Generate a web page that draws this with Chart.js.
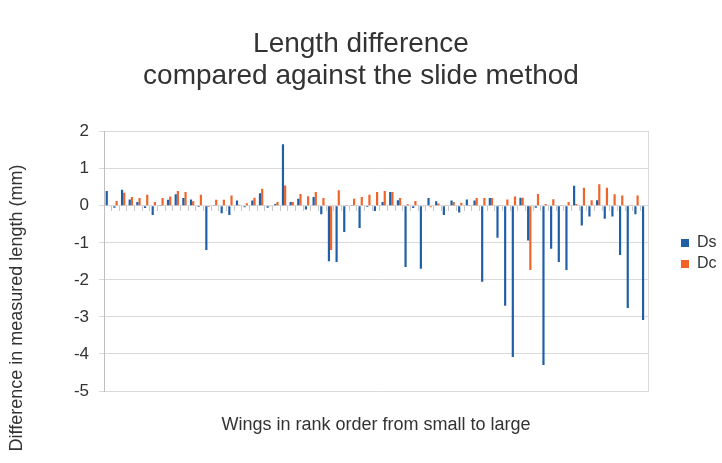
<!DOCTYPE html>
<html>
<head>
<meta charset="utf-8">
<script src="https://cdn.jsdelivr.net/npm/chart.js@4.4.1/dist/chart.umd.min.js"></script>
<style>
html,body{margin:0;padding:0;background:#ffffff;}
#wrap{width:722px;height:463px;}
</style>
</head>
<body>
<div id="wrap"><canvas id="c" width="722" height="463"></canvas></div>
<script>
// ---- data ----
const titleLines = ['Length difference', 'compared against the slide method'];
const xTitle = 'Wings in rank order from small to large';
const yTitle = 'Difference in measured length (mm)';
const seriesNames = ['Ds', 'Dc'];
const categories = ['1','2','3','4','5','6','7','8','9','10','11','12','13','14','15','16','17','18','19','20',
  '21','22','23','24','25','26','27','28','29','30','31','32','33','34','35','36','37','38','39','40',
  '41','42','43','44','45','46','47','48','49','50','51','52','53','54','55','56','57','58','59','60',
  '61','62','63','64','65','66','67','68','69','70','71'];
const dsValues = [0.40,-0.05,0.43,0.17,0.10,-0.06,-0.25,0.02,0.16,0.31,
  0.21,0.17,-0.03,-1.19,0.02,-0.20,-0.25,0.14,-0.04,0.14,
  0.34,-0.05,0.05,1.66,0.10,0.19,-0.10,0.24,-0.23,-1.50,
  -1.52,-0.71,0.02,-0.60,-0.03,-0.14,0.10,0.37,0.15,-1.65,
  -0.06,-1.70,0.21,0.12,-0.25,0.14,-0.18,0.17,0.14,-2.05,
  0.21,-0.86,-2.70,-4.08,0.22,-0.94,-0.05,-4.30,-1.16,-1.52,
  -1.73,0.54,-0.53,-0.29,0.15,-0.35,-0.29,-1.33,-2.76,-0.23,
  -3.08];
const dcValues = [0.00,0.13,0.35,0.24,0.21,0.30,0.10,0.21,0.25,0.40,
  0.37,0.12,0.30,-0.03,0.16,0.16,0.28,0.03,0.07,0.22,
  0.46,-0.02,0.10,0.55,0.10,0.32,0.26,0.37,0.21,-1.19,
  0.42,0.02,0.19,0.24,0.30,0.37,0.40,0.37,0.21,0.04,
  0.13,-0.02,-0.04,0.06,0.02,0.10,0.08,0.02,0.21,0.21,
  0.21,0.01,0.17,0.25,0.22,-1.73,0.32,0.05,0.18,0.02,
  0.10,0.05,0.49,0.15,0.58,0.49,0.31,0.28,0.02,0.28,
  0.00];
const yMin = -5, yMax = 2, yStep = 1;

// ---- styles ----
const FONT = "'Liberation Sans', Arial, Helvetica, sans-serif";
const TEXT = '#333333';
const GRID = '#d9d9d9';
const BLUE = '#1f5fa6';
const ORANGE = '#f0642a';

const yTitlePlugin = {
  id: 'yTitlePlugin',
  afterDraw(chart) {
    const ctx = chart.ctx;
    ctx.save();
    ctx.translate(17, 308);
    ctx.rotate(-Math.PI / 2);
    ctx.textAlign = 'center';
    ctx.textBaseline = 'middle';
    ctx.font = '18px ' + FONT;
    ctx.fillStyle = TEXT;
    ctx.fillText(yTitle, 0, 0);
    ctx.restore();
  }
};

new Chart(document.getElementById('c'), {
  type: 'bar',
  data: {
    labels: categories,
    datasets: [
      { label: seriesNames[0], data: dsValues, backgroundColor: BLUE, borderWidth: 0, xAxisID: 'x', yAxisID: 'y',
        categoryPercentage: 2/3.5, barPercentage: 1.0 },
      { label: seriesNames[1], data: dcValues, backgroundColor: ORANGE, borderWidth: 0, xAxisID: 'x', yAxisID: 'y',
        categoryPercentage: 2/3.5, barPercentage: 1.0 }
    ]
  },
  options: {
    responsive: false,
    animation: false,
    devicePixelRatio: 1,
    layout: { padding: 0 },
    plugins: {
      tooltip: { enabled: false },
      title: {
        display: true,
        text: titleLines,
        color: TEXT,
        font: { family: FONT, size: 28, weight: 'normal', lineHeight: 1.12 },
        padding: { top: 29, bottom: 40 }
      },
      legend: {
        position: 'right',
        align: 'start',
        maxWidth: 46,
        title: { display: true, text: '', font: { size: 10, lineHeight: 1 }, padding: { top: 220, bottom: 0 } },
        labels: {
          boxWidth: 8, boxHeight: 8, padding: 5,
          color: TEXT,
          font: { family: FONT, size: 16 }
        }
      }
    },
    scales: {
      x: {
        type: 'category',
        offset: true,
        grid: { display: false },
        border: { display: true, color: GRID },
        ticks: { display: false },
        title: { display: true, text: xTitle, color: TEXT, font: { family: FONT, size: 18 }, padding: { top: 0, bottom: 27 } },
        afterFit(scale) { scale.height = 72; }
      },
      x2: {
        type: 'category',
        axis: 'x',
        position: { y: 0 },
        offset: true,
        grid: { display: true, offset: true, drawOnChartArea: false, drawTicks: true, tickLength: 5, color: '#c8c8c8' },
        border: { display: false },
        ticks: { display: false }
      },
      y: {
        type: 'linear',
        position: 'left',
        min: yMin, max: yMax,
        ticks: { stepSize: yStep, color: TEXT, font: { family: FONT, size: 17 }, padding: 10 },
        grid: { color: GRID, drawTicks: true, tickLength: 5 },
        border: { display: true, color: '#bfbfbf' },
        afterFit(scale) { scale.width = 104; }
      },
      yr: {
        type: 'linear',
        axis: 'y',
        position: 'right',
        display: true,
        ticks: { display: false },
        grid: { display: false },
        border: { display: true, color: GRID },
        afterFit(scale) { scale.width = 28; }
      }
    }
  },
  plugins: [yTitlePlugin]
});
</script>
</body>
</html>
